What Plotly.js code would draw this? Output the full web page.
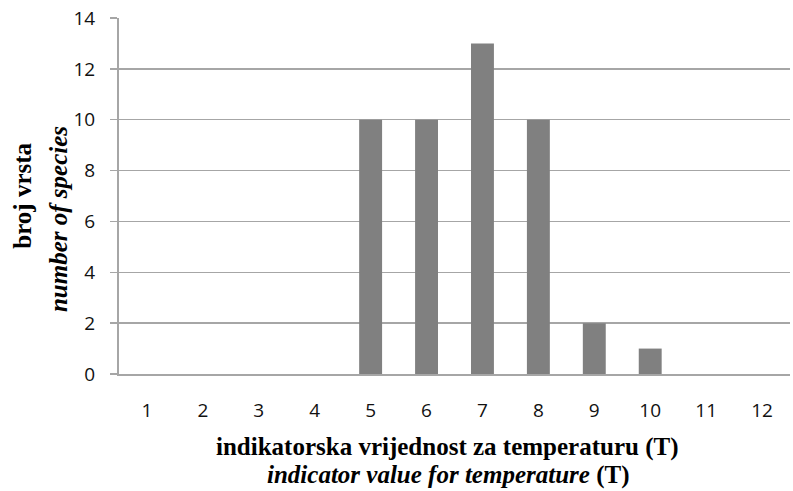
<!DOCTYPE html>
<html>
<head>
<meta charset="utf-8">
<script src="https://cdn.plot.ly/plotly-3.0.1.min.js"></script>
<style>html,body{margin:0;padding:0;background:#fff;}#chart{width:793px;height:491px;}</style>
</head>
<body>
<div id="chart"></div>
<script>
const categories = ["1","2","3","4","5","6","7","8","9","10","11","12"];
const speciesCount = [0,0,0,0,10,10,13,10,2,1,0,0];
const yTicks = [0,2,4,6,8,10,12,14];
const xTitleLines = ['<b>indikatorska vrijednost za temperaturu (T)</b>', '<b><i>indicator value for temperature</i> (T)</b>'];
const yTitleLines = ['<b>broj vrsta</b>', '<b><i>number of species</i></b>'];

const trace = {
  type: 'bar',
  x: categories,
  y: speciesCount,
  marker: {color: '#808080'},
  hoverinfo: 'none'
};

const serif = 'Liberation Serif, Times New Roman, serif';
const sans = 'Open Sans, sans-serif';
const titleFont = {family: serif, size: 25, color: '#000'};

const annotations = [
  {text: xTitleLines[0], xref: 'paper', yref: 'paper', x: 0.489, y: -0.205, xanchor: 'center', yanchor: 'middle', showarrow: false, font: titleFont},
  {text: xTitleLines[1], xref: 'paper', yref: 'paper', x: 0.491, y: -0.285, xanchor: 'center', yanchor: 'middle', showarrow: false, font: titleFont},
  {text: yTitleLines[0], xref: 'paper', yref: 'paper', x: -0.145, y: 0.50, xanchor: 'center', yanchor: 'middle', textangle: -90, showarrow: false, font: titleFont},
  {text: yTitleLines[1], xref: 'paper', yref: 'paper', x: -0.091, y: 0.435, xanchor: 'center', yanchor: 'middle', textangle: -90, showarrow: false, font: titleFont}
];

const layout = {
  width: 793, height: 491,
  margin: {l: 119, r: 3, t: 18, b: 117},
  paper_bgcolor: '#fff', plot_bgcolor: '#fff',
  bargap: 0.59,
  showlegend: false,
  font: {family: sans, size: 19, color: '#111'},
  annotations: annotations,
  xaxis: {
    type: 'category',
    showgrid: false,
    showline: true, linecolor: '#a6a6a6', linewidth: 2,
    ticks: '',
    ticklabelstandoff: 18,
    tickfont: {family: sans, size: 19, color: '#111'},
    zeroline: false
  },
  yaxis: {
    range: [0, 14],
    tickvals: yTicks,
    ticktext: yTicks.map(String),
    showgrid: true, gridcolor: '#a6a6a6', gridwidth: 1.5,
    showline: true, linecolor: '#a6a6a6', linewidth: 2,
    ticks: 'outside', ticklen: 7, tickcolor: '#a6a6a6', tickwidth: 1.5,
    ticklabelstandoff: 11,
    tickfont: {family: sans, size: 19, color: '#111'},
    zeroline: false
  }
};

Plotly.newPlot('chart', [trace], layout, {displayModeBar: false, staticPlot: true});
</script>
</body>
</html>
